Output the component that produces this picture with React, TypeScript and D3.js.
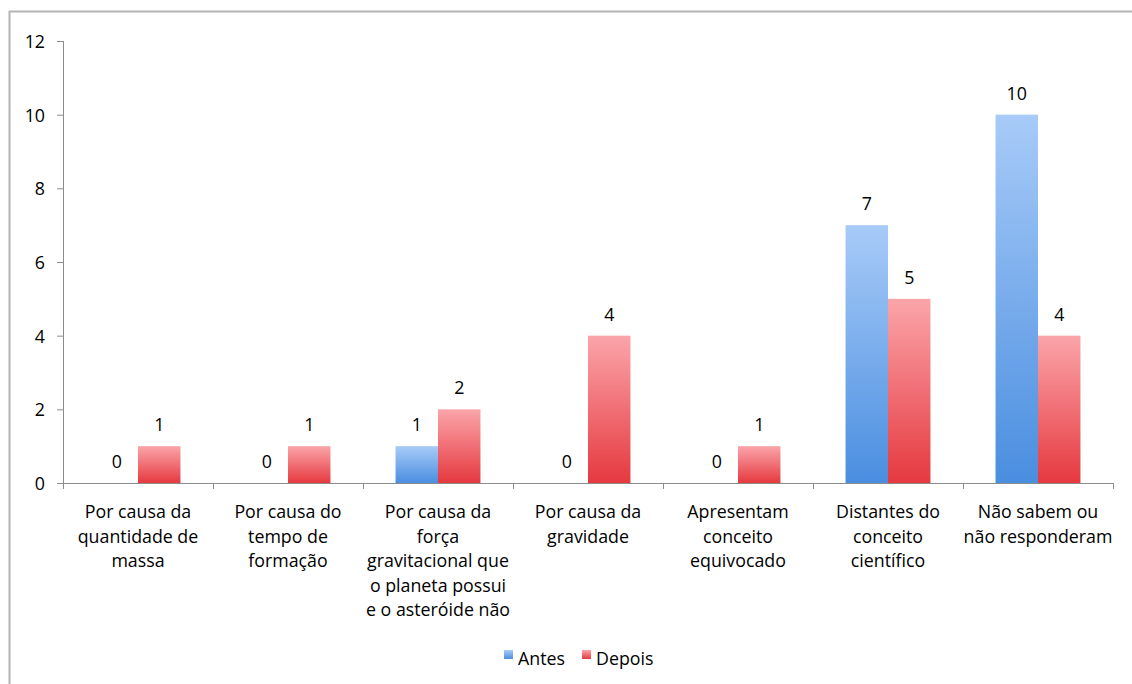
import React from "react";
import * as d3 from "d3";

// Chart data
const categories: string[][] = [
  ["Por causa da", "quantidade de", "massa"],
  ["Por causa do", "tempo de", "formação"],
  ["Por causa da", "força", "gravitacional que", "o planeta possui", "e o asteróide não"],
  ["Por causa da", "gravidade"],
  ["Apresentam", "conceito", "equivocado"],
  ["Distantes do", "conceito", "científico"],
  ["Não sabem ou", "não responderam"],
];
const antes: number[] = [0, 0, 1, 0, 0, 7, 10];
const depois: number[] = [1, 1, 2, 4, 1, 5, 4];
const yTicks: number[] = [0, 2, 4, 6, 8, 10, 12];
const seriesNames: string[] = ["Antes", "Depois"];

const W = 1132;
const H = 684;
const FONT = "'Open Sans', 'Noto Sans', sans-serif";
const FS = 17.8;

export default function App() {
  const x0 = 63;
  const x1 = 1113;
  const yTop = 41;
  const yBot = 483;

  const y = d3.scaleLinear().domain([0, 12]).range([yBot, yTop]);
  const xBand = d3
    .scaleBand<number>()
    .domain(categories.map((_, i) => i))
    .range([x0, x1])
    .paddingInner(0)
    .paddingOuter(0);
  const inner = d3
    .scaleBand<string>()
    .domain(seriesNames)
    .range([0, xBand.bandwidth()])
    .paddingInner(0)
    .paddingOuter(0.3833 / 0.5);

  const series = [antes, depois];
  const fills = ["url(#gBlue)", "url(#gRed)"];

  return (
    <svg
      width={W}
      height={H}
      style={{ position: "absolute", left: 0, top: 0, background: "#fff" }}
      fontFamily={FONT}
    >
      <defs>
        <linearGradient id="gBlue" x1="0" y1="0" x2="0" y2="1">
          <stop offset="0" stopColor="#a8cbf8" />
          <stop offset="1" stopColor="#4a8ee0" />
        </linearGradient>
        <linearGradient id="gRed" x1="0" y1="0" x2="0" y2="1">
          <stop offset="0" stopColor="#fba5aa" />
          <stop offset="1" stopColor="#e5393f" />
        </linearGradient>
      </defs>

      {/* frame */}
      <line x1={9} y1={11.5} x2={W} y2={11.5} stroke="#b4b4b4" strokeWidth={2} />
      <line x1={9.5} y1={11} x2={9.5} y2={H} stroke="#b4b4b4" strokeWidth={2} />

      {/* bars */}
      {series.map((vals, s) =>
        vals.map((v, i) => {
          const bx = (xBand(i) as number) + (inner(seriesNames[s]) as number);
          const bw = inner.bandwidth();
          return (
            <g key={`${s}-${i}`}>
              {v > 0 && (
                <rect x={bx} y={y(v)} width={bw} height={yBot - y(v)} fill={fills[s]} />
              )}
              <text
                x={bx + bw / 2}
                y={y(v) - 22}
                textAnchor="middle"
                dominantBaseline="central"
                fontSize={FS}
                fill="#000"
              >
                {v}
              </text>
            </g>
          );
        })
      )}

      {/* y axis */}
      <line x1={x0 + 0.5} y1={yTop} x2={x0 + 0.5} y2={yBot} stroke="#8c8c8c" />
      {yTicks.map((t) => (
        <g key={t}>
          <line x1={x0 - 6} y1={y(t) + 0.5} x2={x0} y2={y(t) + 0.5} stroke="#8c8c8c" />
          <text
            x={45}
            y={y(t)}
            textAnchor="end"
            dominantBaseline="central"
            fontSize={FS}
            fill="#000"
          >
            {t}
          </text>
        </g>
      ))}

      {/* x axis */}
      <line x1={x0} y1={yBot + 0.5} x2={x1} y2={yBot + 0.5} stroke="#8c8c8c" />
      {categories.map((_, i) => (
        <line
          key={i}
          x1={(xBand(i) as number) + 0.5}
          y1={yBot}
          x2={(xBand(i) as number) + 0.5}
          y2={yBot + 6}
          stroke="#8c8c8c"
        />
      ))}
      <line x1={x1 + 0.5} y1={yBot} x2={x1 + 0.5} y2={yBot + 6} stroke="#8c8c8c" />
      {categories.map((lines, i) => (
        <text key={i} textAnchor="middle" fontSize={FS} fill="#000">
          {lines.map((ln, k) => (
            <tspan
              key={k}
              x={(xBand(i) as number) + xBand.bandwidth() / 2}
              y={511 + k * 24.5}
              dominantBaseline="central"
            >
              {ln}
            </tspan>
          ))}
        </text>
      ))}

      {/* legend */}
      <g>
        <rect x={504} y={650} width={9} height={9} fill="url(#gBlue)" />
        <text x={518} y={658} dominantBaseline="central" fontSize={FS} fill="#000">
          {seriesNames[0]}
        </text>
        <rect x={582} y={650} width={9} height={9} fill="url(#gRed)" />
        <text x={596} y={658} dominantBaseline="central" fontSize={FS} fill="#000">
          {seriesNames[1]}
        </text>
      </g>
    </svg>
  );
}
